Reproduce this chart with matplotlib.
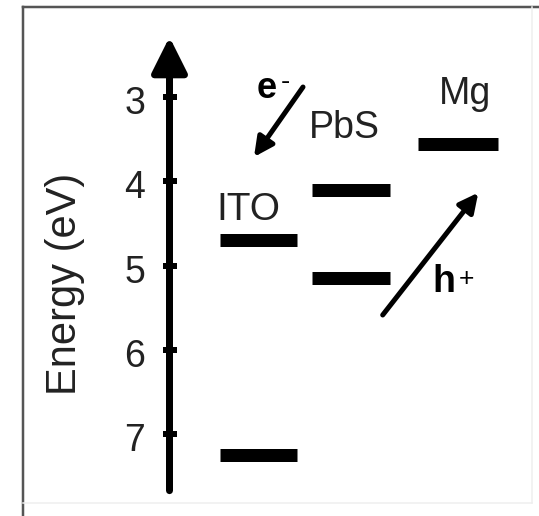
import matplotlib
matplotlib.use('Agg')
import matplotlib.pyplot as plt
from matplotlib.lines import Line2D

plt.rcParams['font.family'] = ['Liberation Sans', 'DejaVu Sans']

# energy levels (eV below vacuum)
materials = ['ITO', 'PbS', 'Mg']
ito_levels = [4.7, 7.25]
pbs_levels = [4.1, 5.15]
mg_levels = [3.55]
tick_values = [3, 4, 5, 6, 7]
tick_labels = ['3', '4', '5', '6', '7']

# x extent of each column (figure pixels)
columns = {'ITO': (220, 297), 'PbS': (312, 390), 'Mg': (418, 498)}
levels = {'ITO': ito_levels, 'PbS': pbs_levels, 'Mg': mg_levels}

fig = plt.figure(figsize=(5.39, 5.16), dpi=100)
ax = fig.add_axes([0, 0, 1, 1])
ax.set_xlim(0, 539)
ax.set_ylim(7.971, 1.846)
ax.axis('off')

px = 72.0 / 100  # points per pixel

# energy axis with arrow head
x_axis = 169.5
ax.annotate('', xy=(x_axis, 2.285), xytext=(x_axis, 7.67),
            arrowprops=dict(arrowstyle='-|>,head_length=%f,head_width=%f' % (30 * px, 15 * px),
                            mutation_scale=1, lw=7 * px, color='k',
                            shrinkA=0, shrinkB=0))
ax.plot([x_axis] * len(tick_values), tick_values, ls='none', marker='_',
        ms=14 * px, mew=6 * px, color='k')
for v, lab in zip(tick_values, tick_labels):
    ax.text(145, v + 0.2, lab, ha='right', va='baseline', fontsize=27, color='#222')

ax.text(65, 5.22, 'Energy (eV)', rotation=90, ha='center', va='center',
        fontsize=30, color='#222')

# level bars
for m in materials:
    x0, x1 = columns[m]
    for e in levels[m]:
        ax.plot([x0, x1], [e, e], color='k', lw=13 * px, solid_capstyle='butt')

ax.text(216.5, 4.46, 'ITO', ha='left', va='baseline', fontsize=28, color='#222')
ax.text(308.5, 3.49, 'PbS', ha='left', va='baseline', fontsize=27, color='#222')
ax.text(438.5, 3.08, 'Mg', ha='left', va='baseline', fontsize=27, color='#222')

# carrier transfer arrows
arrow_kw = dict(arrowstyle='-|>,head_length=%f,head_width=%f' % (16 * px, 8 * px),
                mutation_scale=1, lw=5 * px, color='k', shrinkA=0, shrinkB=0)
ax.annotate('', xy=(254, 3.709), xytext=(303, 2.879), arrowprops=arrow_kw)
ax.annotate('', xy=(478.3, 4.133), xytext=(382.7, 5.585), arrowprops=arrow_kw)

ax.text(257, 3.01, 'e', ha='left', va='baseline', fontsize=26, fontweight='bold')
ax.text(281, 2.897, '-', ha='left', va='baseline', fontsize=20)
ax.text(432.5, 5.309, 'h', ha='left', va='baseline', fontsize=27, fontweight='bold')
ax.text(466.5, 5.235, '+', ha='center', va='baseline', fontsize=19)

# panel frame
fig.add_artist(Line2D([22.5 / 539, 22.5 / 539], [0, 1 - 7 / 516], color='#555', lw=2.5 * px))
fig.add_artist(Line2D([22.5 / 539, 1], [1 - 7 / 516, 1 - 7 / 516], color='#555', lw=2.5 * px))
fig.add_artist(Line2D([532 / 539, 532 / 539], [1 - 503 / 516, 1 - 7 / 516], color='#eeeeee', lw=1.5 * px))
fig.add_artist(Line2D([22.5 / 539, 532 / 539], [1 - 503 / 516, 1 - 503 / 516], color='#eeeeee', lw=1.5 * px))

fig.savefig('out.png', dpi=100, facecolor='white')
